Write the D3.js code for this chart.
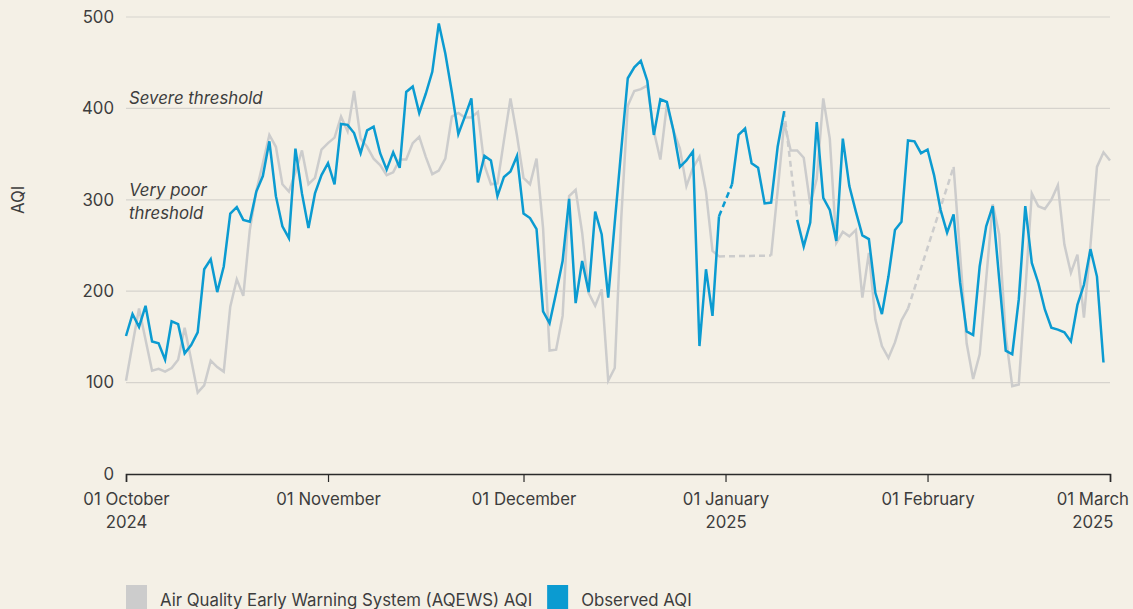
<!DOCTYPE html>
<html>
<head>
<meta charset="utf-8">
<script src="https://cdn.jsdelivr.net/npm/d3@7"></script>
<style>
  html, body { margin: 0; padding: 0; background: #f4f0e6; }
  svg { display: block; font-family: Inter, "Noto Sans", sans-serif; }
</style>
</head>
<body>
<div id="chart"></div>
<script>
const width = 1133
const height = 609

const bg = "#f4f0e6"
const grey = "#cccccc"
const blue = "#0b9bd1"
const gridColor = "#d6d3cd"
const textColor = "#3d3d3d"
const fontSize = 16.8

// daily values, 01 Oct 2024 .. 01 Mar 2025 (null = no data)
const startDate = "2024-10-01"
const endDate = "2025-03-01"

const aqewsValues = [
  102, 142, 181, 147, 113, 115, 112, 116, 125, 160, 125, 89, 97, 124, 117, 112,
  183, 213, 195, 267, 310, 340, 371, 358, 317, 309, 330, 354, 317, 324, 355,
  362, 368, 391, 375, 419, 367, 358, 345, 338, 327, 330, 344, 344, 362, 369,
  347, 328, 332, 345, 391, 395, 390, 390, 396, 338, 317, 318, 365, 411, 370,
  324, 317, 345, 269, 135, 136, 173, 304, 311, 264, 198, 184, 202, 102, 116,
  280, 403, 419, 421, 425, 375, 344, 404, 376, 356, 315, 335, 347, 309, 244, 238,
  null, null, null, null, null, null, null, 239, 310, 384, 354, 354, 346, 295,
  323, 411, 367, 253, 265, 260, 267, 193, 242, 169, 140, 127, 144, 168, 181,
  null, null, null, null, null, null, 336, 240, 143, 104, 131, 213, 295, 262,
  151, 96, 98, 200, 307, 293, 290, 300, 316, 251, 220, 240, 171, 250, 336, 352, 343
]

const observedValues = [
  151, 175, 161, 184, 145, 143, 125, 167, 164, 132, 141, 155, 224, 235, 199, 227,
  285, 292, 278, 276, 309, 326, 364, 304, 271, 258, 356, 307, 269, 307, 327,
  340, 317, 383, 382, 373, 351, 376, 380, 351, 333, 352, 335, 418, 424, 395,
  416, 440, 493, 460, 418, 372, 391, 411, 319, 348, 343, 304, 325, 331, 348,
  285, 280, 268, 178, 165, 198, 233, 301, 187, 233, 199, 287, 262, 193, 275,
  355, 433, 445, 452, 430, 371, 410, 407, 376, 336, 343, 353, 140, 224, 173, 282,
  null, 317, 371, 378, 340, 335, 296, 297, 358, 397, null, 278, 249, 275,
  385, 302, 289, 255, 367, 315, 287, 261, 257, 198, 175, 216, 267, 276, 365,
  364, 351, 355, 327, 289, 264, 284, 209, 156, 152, 227, 271, 293, 213, 135,
  131, 191, 293, 231, 209, 180, 160, 158, 155, 145, 185, 207, 246, 216, 122, null
]

// gaps in the observed series whose dashed bridge is drawn in grey
const greyBridgeDates = ["2025-01-11"]

const yTicks = [0, 100, 200, 300, 400, 500]
const monthTicks = ["2024-10-01", "2024-11-01", "2024-12-01", "2025-01-01", "2025-02-01", "2025-03-01"]
const monthLabels = ["01 October", "01 November", "01 December", "01 January", "01 February", "01 March"]
const yearLabels = ["2024", "", "", "2025", "", "2025"]

const thresholds = [
  { value: 400, lines: ["Severe threshold"] },
  { value: 300, lines: ["Very poor", "threshold"] }
]

const legendItems = [
  { label: "Air Quality Early Warning System (AQEWS) AQI", color: grey },
  { label: "Observed AQI", color: blue }
]

const parse = d3.utcParse("%Y-%m-%d")
const days = d3.utcDay.range(parse(startDate), d3.utcDay.offset(parse(endDate), 1))

const margin = { top: 17, right: 23, bottom: 135, left: 126 }

const x = d3.scaleUtc()
  .domain([parse(startDate), parse(endDate)])
  .range([margin.left, width - margin.right])

const y = d3.scaleLinear()
  .domain([0, 500])
  .range([height - margin.bottom, margin.top])

const svg = d3.select("#chart")
  .append("svg")
  .attr("width", width)
  .attr("height", height)

svg.append("rect")
  .attr("width", width)
  .attr("height", height)
  .attr("fill", bg)

// grid
svg.append("g")
  .selectAll("line")
  .data(yTicks.filter(t => t > 0))
  .join("line")
  .attr("x1", x.range()[0])
  .attr("x2", x.range()[1])
  .attr("y1", d => y(d))
  .attr("y2", d => y(d))
  .attr("stroke", gridColor)
  .attr("stroke-width", 1.2)

// y labels
svg.append("g")
  .selectAll("text")
  .data(yTicks)
  .join("text")
  .attr("x", margin.left - 12)
  .attr("y", d => y(d))
  .attr("dy", "0.35em")
  .attr("text-anchor", "end")
  .attr("font-size", fontSize)
  .attr("fill", textColor)
  .text(d => d)

svg.append("text")
  .attr("transform", `translate(24, ${y(300)}) rotate(-90)`)
  .attr("text-anchor", "middle")
  .attr("font-size", fontSize)
  .attr("fill", textColor)
  .text("AQI")

// threshold notes: first line sits on the gridline, the rest run below it
thresholds.forEach(t => {
  t.lines.forEach((line, i) => {
    svg.append("text")
      .attr("x", margin.left + 3)
      .attr("y", y(t.value) - 4 + i * 23)
      .attr("font-size", fontSize)
      .attr("font-style", "italic")
      .attr("fill", textColor)
      .text(line)
  })
})

// x axis
const xAxis = svg.append("g")
  .attr("transform", `translate(0, ${y(0)})`)
  .call(d3.axisBottom(x)
    .tickValues(monthTicks.map(parse))
    .tickSize(8)
    .tickFormat((d, i) => monthLabels[i]))

xAxis.select(".domain")
  .attr("stroke", "#2a2a2a")
  .attr("stroke-width", 1.6)
xAxis.selectAll(".tick line")
  .attr("stroke", "#2a2a2a")
  .attr("stroke-width", 1.2)
xAxis.selectAll(".tick text")
  .attr("font-size", fontSize)
  .attr("font-family", "Inter, 'Noto Sans', sans-serif")
  .attr("fill", textColor)
  .attr("y", 19)
  .each(function(d, i) {
    const t = d3.select(this)
    t.text(null)
    t.append("tspan").attr("x", 0).attr("dy", "0.71em").text(monthLabels[i])
    if (yearLabels[i]) t.append("tspan").attr("x", 0).attr("dy", "1.4em").text(yearLabels[i])
  })

// keep the last label inside the frame
xAxis.selectAll(".tick text").each(function() {
  const box = this.getBBox()
  const tick = this.parentNode.getAttribute("transform")
  const tx = +tick.match(/translate\(([-\d.]+)/)[1]
  const right = tx + box.x + box.width
  if (right > width - 4) d3.select(this).attr("transform", `translate(${width - 4 - right}, 0)`)
})

// series
const series = [
  { values: aqewsValues, color: grey },
  { values: observedValues, color: blue }
]

const line = d3.line()
  .defined(d => d.v != null)
  .x(d => x(d.date))
  .y(d => y(d.v))

const plot = svg.append("g")

series.forEach(s => {
  const pts = days.map((date, i) => ({ date, v: s.values[i] ?? null }))

  // dashed bridges over missing days
  const known = pts.filter(p => p.v != null)
  for (let k = 1; k < known.length; k++) {
    const a = known[k - 1], b = known[k]
    if (d3.utcDay.count(a.date, b.date) > 1) {
      const gapDay = d3.utcFormat("%Y-%m-%d")(d3.utcDay.offset(a.date, 1))
      const col = (s.color === blue && greyBridgeDates.includes(gapDay)) ? grey : s.color
      plot.append("path")
        .attr("d", line([a, b]))
        .attr("fill", "none")
        .attr("stroke", col)
        .attr("stroke-width", 2.5)
        .attr("stroke-dasharray", "6,4")
    }
  }

  plot.append("path")
    .attr("d", line(pts))
    .attr("fill", "none")
    .attr("stroke", s.color)
    .attr("stroke-width", 2.5)
    .attr("stroke-linejoin", "miter")
})

// legend
let lx = margin.left
const legend = svg.append("g")
legendItems.forEach(item => {
  legend.append("rect")
    .attr("x", lx)
    .attr("y", 585)
    .attr("width", 21)
    .attr("height", 26)
    .attr("fill", item.color)
  const t = legend.append("text")
    .attr("x", lx + 34)
    .attr("y", 606)
    .attr("font-size", fontSize)
    .attr("fill", textColor)
    .text(item.label)
  lx += 34 + t.node().getComputedTextLength() + 15
})
</script>
</body>
</html>
